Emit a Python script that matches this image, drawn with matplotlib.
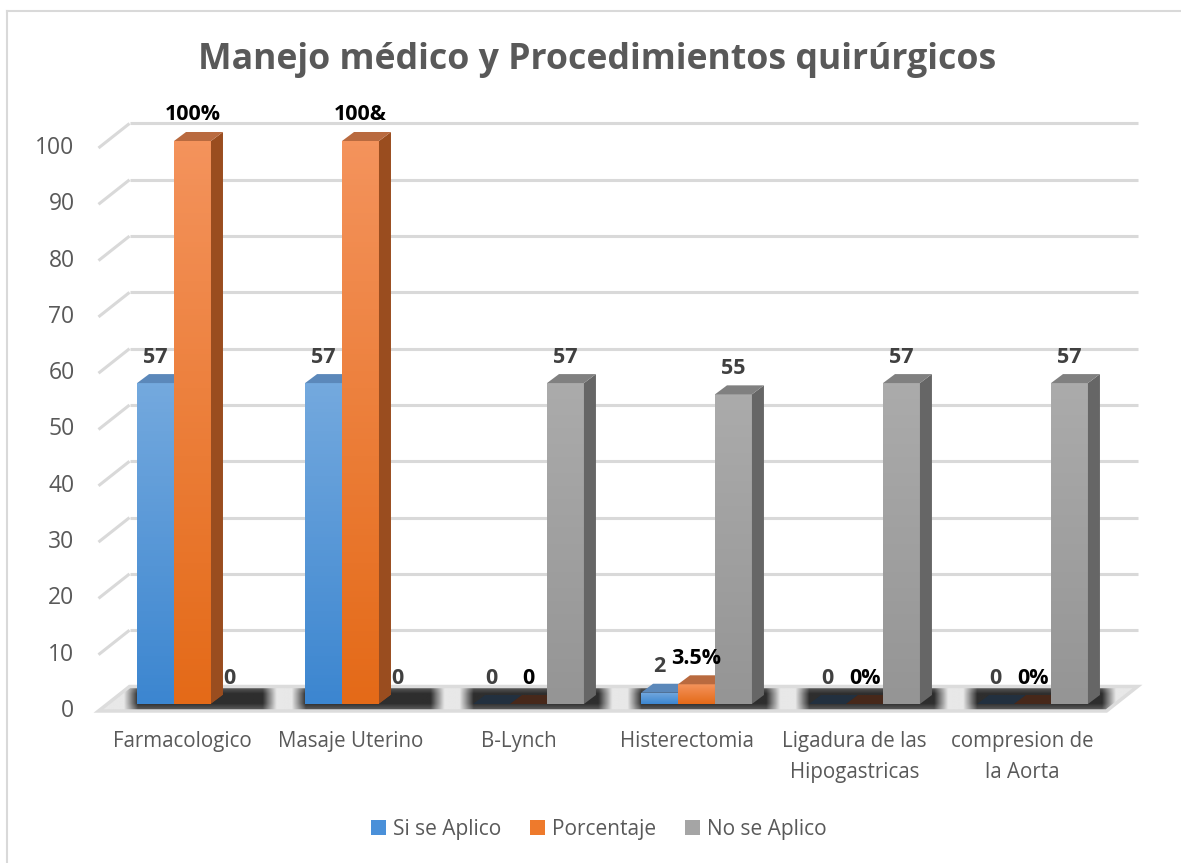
import matplotlib
matplotlib.use("Agg")
import matplotlib.pyplot as plt
import numpy as np
from matplotlib.patches import Polygon, Patch
from matplotlib.lines import Line2D
from matplotlib.colors import LinearSegmentedColormap

# ---------------- data ----------------
categories = ["Farmacologico", "Masaje Uterino", "B-Lynch", "Histerectomia",
              "Ligadura de las\nHipogastricas", "compresion de\nla Aorta"]
series_names = ["Si se Aplico", "Porcentaje", "No se Aplico"]
si_se_aplico = [57, 57, 0, 2, 0, 0]
porcentaje = [100, 100, 0, 3.5, 0, 0]
no_se_aplico = [0, 0, 57, 55, 57, 57]
labels_si = ["57", "57", "0", "2", "0", "0"]
labels_porc = ["100%", "100&", "0", "3.5%", "0%", "0%"]
labels_no = ["0", "0", "57", "55", "57", "57"]
y_ticks = [0, 10, 20, 30, 40, 50, 60, 70, 80, 90, 100]
title = "Manejo médico y Procedimientos quirúrgicos"

# ---------------- style ----------------
FONT = ["Open Sans", "DejaVu Sans"]
W, H = 1181, 863
SX, SY = 168.0, 5.63          # pixels per category / per value unit
X0, Y0 = 192.5, 159.0         # pixel position of data origin (from left / bottom)
BAR_W = 0.22
DEPTH = (12, 9)               # bar depth offset (px right, px up)
FRONT = (-10, -7)             # front plane offset
BACK = (21, 17.5)             # back wall offset

front_cols = [("#3c86d0", "#74a9de"), ("#e46a18", "#f4935c"), ("#959595", "#ababab")]
side_cols = ["#2f63a0", "#9a4d1f", "#666666"]
top_cols = ["#5b88ba", "#b96a3f", "#808080"]
zero_cols = ["#22303f", "#47281a", "#2e2e2e"]
label_cols = ["#404040", "#000000", "#404040"]
legend_cols = ["#4a90d9", "#ee7a2c", "#a5a5a5"]

fig = plt.figure(figsize=(W / 100, H / 100), dpi=100)
ax = fig.add_axes([0, 0, 1, 1])
ax.axis("off")


def px(off):
    return off[0] / SX, off[1] / SY


n = len(categories)
series = [si_se_aplico, porcentaje, no_se_aplico]
labels = [labels_si, labels_porc, labels_no]

fx, fy = px(FRONT)
bx, by = px(BACK)
dx, dy = px(DEPTH)
xl, xr = -0.5, n - 0.5

# back wall gridlines
for v in y_ticks[1:]:
    ax.plot([xl + bx, xr + bx], [v + by, v + by], color="#d9d9d9", lw=2.2, zorder=1,
            solid_capstyle="butt")
    ax.plot([xl + fx, xl + bx], [v + fy, v + by], color="#d9d9d9", lw=2.2, zorder=1,
            solid_capstyle="butt")

# y tick labels (front plane)
for v in y_ticks:
    ax.annotate(str(v), (xl + fx, v + fy), xytext=(-24, 0), textcoords="offset pixels",
                ha="right", va="center", fontsize=16.5, color="#595959", family=FONT)

# floor
floor_pts = [(xl + fx, fy), (xr + fx, fy), (xr + bx, by), (xl + bx, by)]
floor = Polygon(floor_pts, closed=True, facecolor="#ececec", edgecolor="none", zorder=2)
ax.add_patch(floor)

# shadow on the floor (profile built from the group positions)
xs = np.linspace(xl + fx, xr + bx, 1200)
dark = np.zeros_like(xs)
for i in range(n):
    gl = i - 1.5 * BAR_W
    gr = i + 1.5 * BAR_W + dx + 2 / SX
    fade = 14 / SX
    d = np.clip(1 - np.maximum(gl - xs, xs - gr) / fade, 0, 1)
    dark = np.maximum(dark, d)
rows = np.linspace(0, 1, 40)[:, None]
vert = np.clip(np.minimum(rows, 1 - rows) / 0.3, 0, 1) * 0.3 + 0.7
img = dark[None, :] * vert
cmap_sh = LinearSegmentedColormap.from_list("sh", ["#e8e8e8", "#2e2e2e"])
im = ax.imshow(img, extent=[xl + fx, xr + bx, fy, by], origin="lower", aspect="auto",
               cmap=cmap_sh, vmin=0, vmax=1, zorder=2.5, interpolation="bilinear")
im.set_clip_path(floor)
# floor rim
rim = Polygon(floor_pts, closed=True, facecolor="none", edgecolor="#dcdcdc", lw=2.5,
              zorder=2.6)
ax.add_patch(rim)

# bars
zo = 3
grad = np.linspace(0, 1, 100)[:, None]
for i in range(n):
    for j in range(3):
        v = series[j][i]
        left = i - 1.5 * BAR_W + j * BAR_W
        right = left + BAR_W
        if v > 0:
            bar = ax.bar(left, v, width=BAR_W, align="edge", color=front_cols[j][0],
                         edgecolor="none", zorder=zo)[0]
            cm = LinearSegmentedColormap.from_list("g", list(front_cols[j]))
            gim = ax.imshow(grad, extent=[left, right, 0, v], origin="lower", aspect="auto",
                            cmap=cm, zorder=zo + 0.01)
            gim.set_clip_path(bar)
            side = Polygon([(right, 0), (right + dx, dy), (right + dx, v + dy), (right, v)],
                           closed=True, facecolor=side_cols[j], edgecolor="none",
                           zorder=zo + 0.02)
            ax.add_patch(side)
            top = Polygon([(left, v), (right, v), (right + dx, v + dy), (left + dx, v + dy)],
                          closed=True, facecolor=top_cols[j], edgecolor="none",
                          zorder=zo + 0.03)
            ax.add_patch(top)
        else:
            top = Polygon([(left, 0), (right, 0), (right + dx, dy), (left + dx, dy)],
                          closed=True, facecolor=zero_cols[j], edgecolor="none",
                          zorder=zo + 0.03)
            ax.add_patch(top)
        ax.annotate(labels[j][i], ((left + right) / 2, v), xytext=(0, 26),
                    textcoords="offset pixels", ha="center", va="center", fontsize=15.5,
                    fontweight="bold", color=label_cols[j], family=FONT, zorder=20)
        zo += 0.1

# category labels (front plane)
for i, c in enumerate(categories):
    ax.annotate(c, (i + fx, fy), xytext=(0, -20), textcoords="offset pixels",
                ha="center", va="top", fontsize=14.8, color="#595959", family=FONT,
                linespacing=1.65)

ax.set_xlim(-X0 / SX, (W - X0) / SX)
ax.set_ylim(-Y0 / SY, (H - Y0) / SY)

# title
fig.text(597 / W, 1 - 60 / H, title, ha="center", va="center", fontsize=25.7,
         fontweight="bold", color="#595959", family=FONT)

# legend
handles = [Patch(facecolor=c, edgecolor="none") for c in legend_cols]
fig.legend(handles, series_names, loc="center", bbox_to_anchor=(599 / W, 1 - 829 / H),
           ncol=3, frameon=False, handlelength=0.7, handleheight=0.7, handletextpad=0.35,
           columnspacing=1.4, prop={"family": FONT, "size": 15}, labelcolor="#595959")

# chart frame (top and left edges visible)
fig.add_artist(Line2D([7 / W, 7 / W], [0, 1 - 11 / H], color="#d9d9d9", lw=1.5))
fig.add_artist(Line2D([7 / W, 1], [1 - 11 / H, 1 - 11 / H], color="#d9d9d9", lw=1.5))

fig.savefig("out.png", dpi=100)
